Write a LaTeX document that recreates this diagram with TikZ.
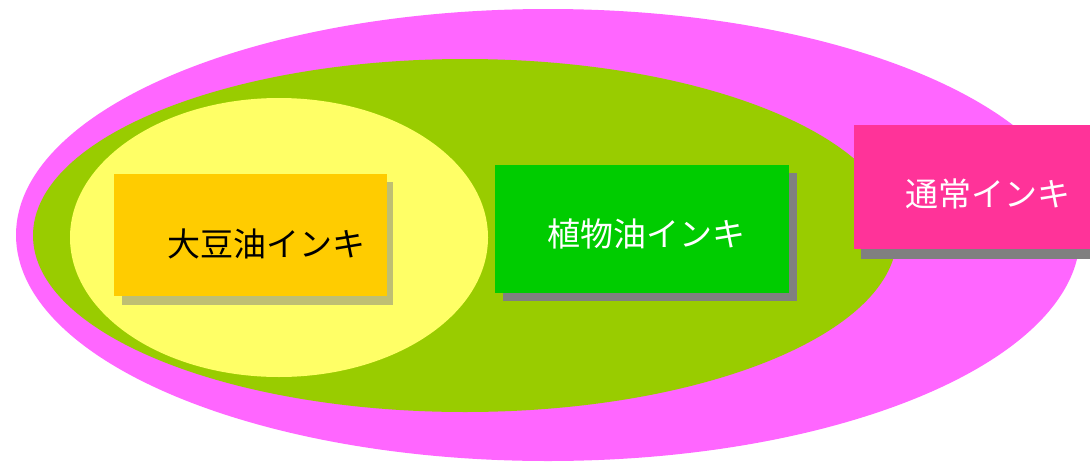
\documentclass[tikz,border=0pt]{standalone}
\usepackage{fontspec}
\newfontfamily\jpfont{Noto Sans CJK JP}
\definecolor{outerC}{HTML}{FF66FF}
\definecolor{midC}{HTML}{99CC00}
\definecolor{innerC}{HTML}{FFFF66}
\definecolor{soyC}{HTML}{FFCC00}
\definecolor{vegC}{HTML}{00CC00}
\definecolor{normC}{HTML}{FF3399}
\definecolor{soyShadow}{HTML}{BFBF73}
\definecolor{grayShadow}{HTML}{808080}
\tikzset{
  inkbox/.style={rectangle, inner sep=0pt, draw=none},
  inklabel/.style={inner sep=0pt, font=\jpfont\fontsize{33}{33}\selectfont}
}
\begin{document}
\begin{tikzpicture}[x=1pt,y=-1pt]
\useasboundingbox (0,0) rectangle (1090,461);
% nested sets
\fill[outerC] (548,235) ellipse [x radius=532, y radius=226];
\fill[midC] (465,235.5) ellipse [x radius=432, y radius=176.5];
\fill[innerC] (279,237.5) ellipse [x radius=209, y radius=139.5];
% soy ink box
\fill[soyShadow] (122,182) rectangle (393,305);
\node[inkbox, fill=soyC, minimum width=273pt, minimum height=122pt] (soy) at (250.5,235) {};
\node[inklabel, text=black] (soyt) at (266,244) {大豆油インキ};
% vegetable oil ink box
\fill[grayShadow] (503,173) rectangle (797,301);
\node[inkbox, fill=vegC, minimum width=294pt, minimum height=128pt] (veg) at (642,229) {};
\node[inklabel, text=white] (vegt) at (646,234) {植物油インキ};
% normal ink box
\fill[grayShadow] (861,133) rectangle (1090,259);
\node[inkbox, fill=normC, minimum width=236pt, minimum height=124pt] (norm) at (972,187) {};
\node[inklabel, text=white] (normt) at (988,194) {通常インキ};
\end{tikzpicture}
\end{document}
